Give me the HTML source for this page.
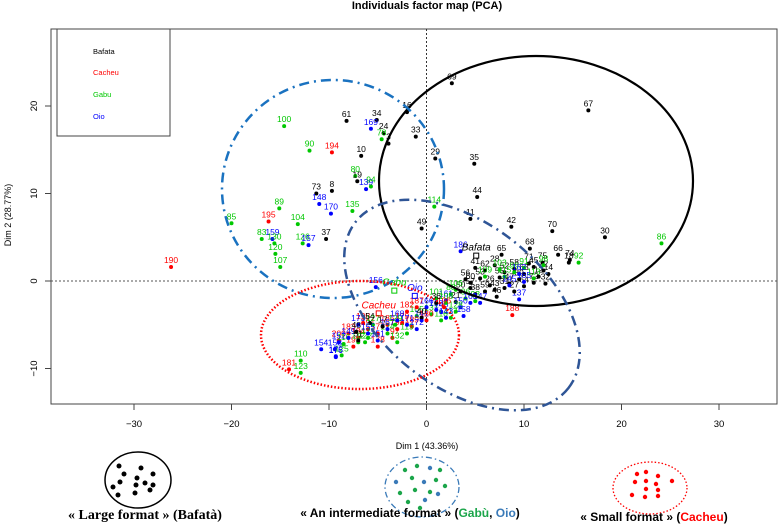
<!DOCTYPE html>
<html><head><meta charset="utf-8"><style>
body{margin:0;background:#fff;}
svg{display:block;font-family:"Liberation Sans",sans-serif;}
</style></head><body>
<svg id="chart" width="778" height="524" viewBox="0 0 778 524">
<text x="427" y="9" text-anchor="middle" font-size="11" font-weight="bold">Individuals factor map (PCA)</text>
<rect x="51" y="29" width="726" height="375" fill="none" stroke="#444" stroke-width="1"/>
<g id="axes"></g>
<g id="marks"></g>
<g id="ellipses"></g>
<g>
<rect x="57" y="29" width="113" height="107" fill="#fff" stroke="#444"/>
<text x="93" y="54" font-size="7.5" fill="#000">Bafata</text>
<text x="93" y="75" font-size="7.5" fill="#f00">Cacheu</text>
<text x="93" y="97" font-size="7.5" fill="#00c800">Gabu</text>
<text x="93" y="119" font-size="7.5" fill="#00f">Oio</text>
</g>
<text x="427" y="449" text-anchor="middle" font-size="9">Dim 1 (43.36%)</text>
<text transform="translate(11,215) rotate(-90)" text-anchor="middle" font-size="9">Dim 2 (28.77%)</text>
<g>
<ellipse cx="138" cy="480" rx="33" ry="28" fill="none" stroke="#000" stroke-width="1.5"/>
<g fill="#000">
<circle cx="119" cy="466" r="2.5"/><circle cx="141" cy="468" r="2.5"/><circle cx="153" cy="474" r="2.5"/><circle cx="124" cy="474" r="2.5"/><circle cx="137" cy="478" r="2.5"/><circle cx="120" cy="482" r="2.5"/><circle cx="136" cy="485" r="2.5"/><circle cx="145" cy="483" r="2.5"/><circle cx="153" cy="485" r="2.5"/><circle cx="113" cy="487" r="2.5"/><circle cx="150" cy="490" r="2.5"/><circle cx="118" cy="495" r="2.5"/><circle cx="135" cy="493" r="2.5"/>
</g>
<text x="145" y="519" text-anchor="middle" font-family="Liberation Serif,serif" font-weight="bold" font-size="14">« Large format » (Bafatà)</text>
<ellipse cx="422" cy="487" rx="37" ry="30" fill="none" stroke="#3a7ab8" stroke-width="1.3" stroke-dasharray="6,3,1.5,3"/>
<g>
<circle cx="405" cy="470" r="2.2" fill="#1ba54a"/><circle cx="417" cy="466" r="2.2" fill="#1ba54a"/><circle cx="430" cy="468" r="2.2" fill="#3a7ab8"/><circle cx="440" cy="470" r="2.2" fill="#1ba54a"/><circle cx="396" cy="482" r="2.2" fill="#3a7ab8"/><circle cx="412" cy="478" r="2.2" fill="#1ba54a"/><circle cx="424" cy="482" r="2.2" fill="#3a7ab8"/><circle cx="436" cy="480" r="2.2" fill="#1ba54a"/><circle cx="445" cy="486" r="2.2" fill="#1ba54a"/><circle cx="400" cy="493" r="2.2" fill="#1ba54a"/><circle cx="415" cy="490" r="2.2" fill="#1ba54a"/><circle cx="430" cy="492" r="2.2" fill="#1ba54a"/><circle cx="438" cy="494" r="2.2" fill="#3a7ab8"/><circle cx="408" cy="502" r="2.2" fill="#1ba54a"/><circle cx="425" cy="500" r="2.2" fill="#3a7ab8"/><circle cx="420" cy="508" r="2.2" fill="#1ba54a"/>
</g>
<text x="410" y="517" text-anchor="middle" font-weight="bold" font-size="12">« An intermediate format » (<tspan fill="#1ba54a">Gabù</tspan>, <tspan fill="#3a7ab8">Oio</tspan>)</text>
<ellipse cx="650" cy="488" rx="37" ry="26" fill="none" stroke="#f00" stroke-width="1.3" stroke-dasharray="1.5,2"/>
<g fill="#f00">
<circle cx="637" cy="474" r="2.2"/><circle cx="646" cy="472" r="2.2"/><circle cx="658" cy="476" r="2.2"/><circle cx="635" cy="482" r="2.2"/><circle cx="646" cy="481" r="2.2"/><circle cx="656" cy="484" r="2.2"/><circle cx="672" cy="481" r="2.2"/><circle cx="646" cy="489" r="2.2"/><circle cx="658" cy="490" r="2.2"/><circle cx="632" cy="495" r="2.2"/><circle cx="645" cy="497" r="2.2"/><circle cx="658" cy="496" r="2.2"/>
</g>
<text x="654" y="521" text-anchor="middle" font-weight="bold" font-size="12">« Small format » (<tspan fill="#f00">Cacheu</tspan>)</text>
</g>
</svg>
<script>
const xTicks=[-30,-20,-10,0,10,20,30];
const yTicks=[-10,0,10,20];
// labelled individuals: x values, y values, group, label
const ptX=[-14.6,-8.2,-5.1,-5.7,-4.4,-4.6,-3.9,-12.0,-9.7,-6.7,-7.3,-7.1,-6.2,-5.7,-11.3,-9.7,-11.0,-9.8,-7.6,-15.1,-16.2,-13.2,-20.0,-16.9,-15.8,-15.6,-12.7,-12.1,-10.3,-15.5,-15.0,-26.2,
2.6,-2.0,16.6,-1.1,0.9,4.9,5.2,0.8,4.5,-0.5,8.7,12.9,18.3,24.1,10.6,3.5,7.7,13.5,14.7,14.6,15.6,11.9,4.5,-5.2,8.8,9.5,-12.9,-12.9,-14.1,-9.4,-9.3,
5,6,7,8,9,10,11,12,11.5,10.5,9.5,8.5,7.5,6.5,5.5,4.5,7,8,9,6,10,11,12.2,12.5,4,3.5,5,7.2,3,
8,9,10,11,12,7.5,6,3,2.5,4,5,9.5,10,8.5,4.5,5.5,3.5,2,1.5,
1,2,3,0.5,2.5,-1,1.5,0,1,2,-0.5,3.8,-1,0,1.8,-2,-1.5,-0.5,1,
-8,-7,-6,-5,-4,-3,-7.5,-5,-9,-2.5,-3.5,-6.5,-8.5,-7,-6,-4,-3,-2,-8.7,-6.3,-5.5,-3.2,-10.8,-9.3,-9,-8,-6,-5,-4,-3,-2,-1,-7,-7.2,-5.8,-7,-4.5];
const ptY=[17.7,18.3,18.4,17.4,16.9,16.2,15.7,14.9,14.7,14.3,12.0,11.4,10.5,10.8,10.0,10.3,8.8,7.7,8.0,8.3,6.8,6.5,6.6,4.8,4.8,4.3,4.3,4.1,4.8,3.1,1.6,1.6,
22.6,19.3,19.5,16.5,14.0,13.4,9.6,8.5,7.1,6.0,6.2,5.7,5.0,4.3,3.7,3.4,3.0,3.0,2.4,2.1,2.1,2.1,-0.2,-0.7,-3.9,-2.1,-9.1,-10.5,-10.1,-7.8,-8.7,
1.5,1.2,1.8,1.0,1.4,0.8,1.6,1.2,0.5,2.0,0.2,-0.3,0.4,-0.5,0.3,-0.8,-1.0,-0.8,-1.2,-1.2,-0.6,-0.2,-0.3,0.8,0.2,-1.2,-1.5,-1.8,-2.4,
0.5,1.0,1.5,0.3,1.8,1.3,0.5,-1,-1.5,-2,-2.3,0.8,-0.1,-0.5,-2.5,-2.5,-3,-2.2,-3.5,
-2,-2.5,-3.5,-3.8,-4.2,-4,-4.5,-3,-3.3,-4.2,-4.5,-4,-3,-4.5,-3,-3.5,-5.2,-4.2,-2.5,
-6,-6.5,-5.5,-6,-5,-5.5,-7.5,-7.5,-6.8,-4.8,-6.5,-4.8,-7.2,-7,-6.5,-6,-7,-6,-8.5,-7,-5,-5,-7.8,-8.6,-7,-6.5,-6,-6.8,-5.5,-4.5,-5,-5.5,-5,-5.8,-4.8,-6.8,-5.2];
const ptGroup=("GBBOBGBGCBGBOGBBOOGGCGGGOGGOBGGC"+"BBBBBBBGBBBBBGBOBBBBGBBOCOGGCOO"+"BBBBBBBBBBBBBBBBBBBBBBBBBBBBB"+"GGGGGGGGGGGOOOOOOOO"+"GGGGGGGOOOOOCCCCCBB"+"CCCCCCCCCCCCGGGGGGGGGGOOOOOOOOOOOBBBB").split("");
const ptLabel=["100","61","34","169","24","78","3","90","194","10","80","19","139","94","73","8","148","170","135","89","195","104","85","83","159","130","126","157","37","120","107","190",
"69","16","67","33","29","35","44","114","11","49","42","70","30","86","68","186","65","66","74","18","92","75","60","156","188","137","110","123","181","153","176",
"41","62","28","52","58","63","45","22","12","71","39","47","55","26","53","57","43","31","27","59","64","72","32","14","56","50","38","46","21",
"115","99","91","113","98","103","109","106","88","96","93","162","165","145","163","147","150","161","140",
"101","108","128","131","117","105","116","166","160","143","141","158","187","180","196","182","189","40","36",
"183","184","191","177","185","192","193","178","200","179","197","198","116","112","121","124","132","119","125","122","127","129","154","175","152","149","155","151","167","168","171","172","173","48","54","51","17"];
const colors={B:"#000",C:"#f00",G:"#00c800",O:"#00f"};
const NS="http://www.w3.org/2000/svg";
function sx(v){return 426.5+v*9.75;}
function sy(v){return 281-v*8.75;}
function mk(tag,attrs,parent){const e=document.createElementNS(NS,tag);for(const k in attrs)e.setAttribute(k,attrs[k]);parent.appendChild(e);return e;}
const axes=document.getElementById('axes');
xTicks.forEach(t=>{
  const l=mk('line',{x1:sx(t),x2:sx(t),y1:404,y2:410,stroke:'#444'},axes);
  
  
  const tx=mk('text',{x:sx(t),y:427,'text-anchor':'middle','font-size':9.5},axes);
  tx.textContent=t<0?'\u2212'+(-t):String(t);
  
  
});
yTicks.forEach(t=>{
  const l=mk('line',{x1:45,x2:51,y1:sy(t),y2:sy(t),stroke:'#444'},axes);
  
  
  const tx=mk('text',{transform:`translate(37,${sy(t)}) rotate(-90)`,'text-anchor':'middle','font-size':9.5},axes);
  tx.textContent=t<0?'\u2212'+(-t):String(t);
  
  
});
const z1=mk('line',{x1:51,x2:777,y1:sy(0),y2:sy(0),stroke:'#555','stroke-dasharray':'2,2'},axes);


const z2=mk('line',{x1:sx(0),x2:sx(0),y1:29,y2:404,stroke:'#333','stroke-dasharray':'2,2'},axes);


const marks=document.getElementById('marks');
ptX.forEach((x,i)=>{
  const c=colors[ptGroup[i]]||"#000";
  const d=mk('circle',{cx:sx(x),cy:sy(ptY[i]),r:2,fill:c},marks);
  
  
  const t=mk('text',{x:sx(x),y:sy(ptY[i])-4,'text-anchor':'middle','font-size':8.5,fill:c},marks);
  t.textContent=ptLabel[i];
  
  
});
// group centroids
const cenX=[5.1,-3.3,-1.2,-4.9];
const cenY=[2.9,-1.1,-1.7,-3.7];
const cenName=["Bafata","Gabu","Oio","Cacheu"];
const cenGroup=["B","G","O","C"];
cenX.forEach((x,i)=>{
  const c=colors[cenGroup[i]];
  const r=mk('rect',{x:sx(x)-2.5,y:sy(cenY[i])-2.5,width:5,height:5,fill:'none',stroke:c},marks);
  
  
  const t=mk('text',{x:sx(x),y:sy(cenY[i])-5,'text-anchor':'middle','font-size':10,'font-style':'italic',fill:c},marks);
  t.textContent=cenName[i];
  
  
});
const el=document.getElementById('ellipses');
const e1=mk('ellipse',{cx:536,cy:181,rx:157,ry:125,fill:'none',stroke:'#000','stroke-width':2.2},el);


const e2=mk('ellipse',{cx:333,cy:189,rx:111,ry:109,fill:'none',stroke:'#1a72c0','stroke-width':2.5,'stroke-dasharray':'10,5,2,5'},el);


const e3=mk('ellipse',{cx:462,cy:305,rx:135,ry:82,fill:'none',stroke:'#2f5596','stroke-width':2.5,'stroke-dasharray':'10,5,2,5',transform:'rotate(38 462 305)'},el);


const e4=mk('ellipse',{cx:360,cy:335,rx:99,ry:54,fill:'none',stroke:'#f00','stroke-width':2.5,'stroke-dasharray':'1.5,2'},el);


</script>
</body></html>
